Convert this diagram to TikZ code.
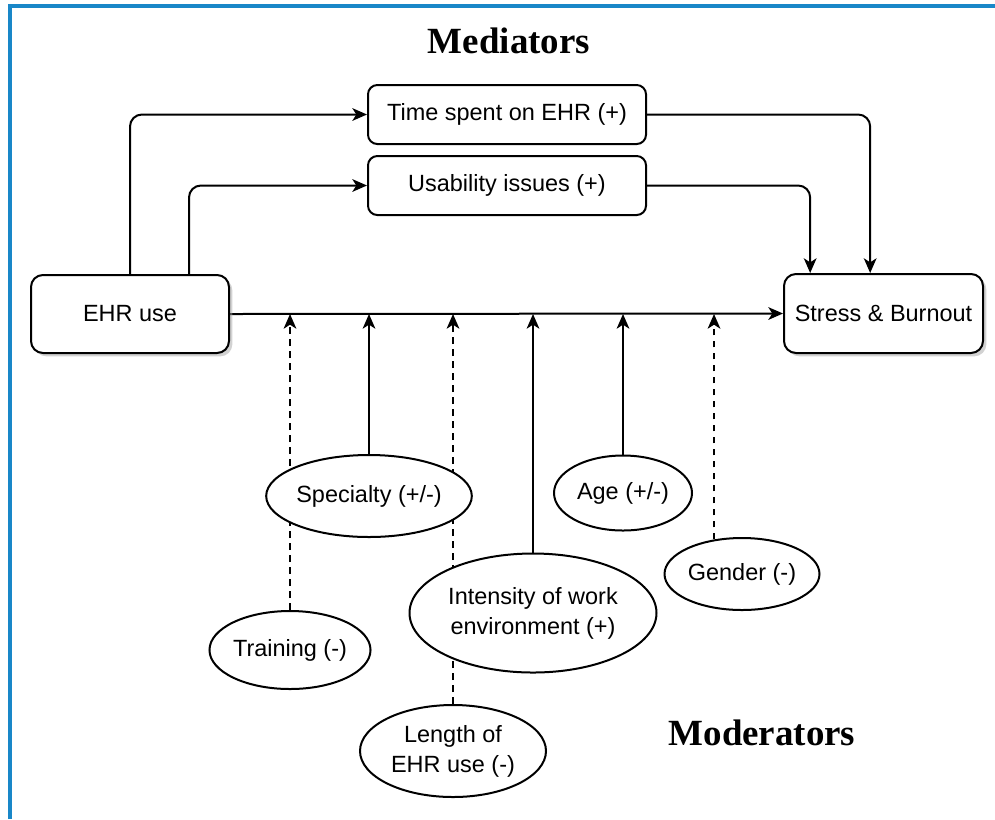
\documentclass[tikz,border=0pt]{standalone}
\usepackage{fontspec}
\setmainfont{Liberation Sans}
\newfontfamily\titlefont{Liberation Serif}
\usepackage{tikz}
\usetikzlibrary{arrows.meta,positioning,shapes.geometric,shadows,calc,backgrounds}
\definecolor{frameblue}{RGB}{25,135,200}

\begin{document}
\begin{tikzpicture}[
  x=0.75pt, y=-0.75pt,
  line width=1.5pt,
  >={Stealth[length=11pt, width=9.5pt, inset=3pt]},
  every node/.style={font=\fontsize{17.6}{22.5}\selectfont, align=center},
  medbox/.style={draw, rounded corners=7pt, minimum width=208.5pt, minimum height=44.25pt, inner sep=0pt},
  endbox/.style={draw, fill=white, rounded corners=9pt, minimum width=148.5pt, minimum height=58.5pt,
                 inner sep=0pt, drop shadow={shadow xshift=2.5pt, shadow yshift=-2.5pt, fill=black!35}},
  modell/.style={draw, fill=white, ellipse, inner sep=0pt},
  heading/.style={font=\titlefont\bfseries\fontsize{27.7}{32}\selectfont},
  link/.style={->, line width=1.5pt},
  dashedarrow/.style={->, dash pattern=on 5pt off 4pt, line width=1.6pt},
]
\useasboundingbox (0,0) rectangle (995,819);
\draw[frameblue, line width=2.4pt] (10,819) -- (10,6) -- (995,6);

\node[heading] (medtitle) at (509,41) {Mediators};
\node[heading] (modtitle) at (762,733) {Moderators};

\node[medbox] (time) at (507,114.5) {Time spent on EHR (+)};
\node[medbox] (usab) at (507,185.5) {Usability issues (+)};

\node[endbox] (ehr) at (130,314) {EHR use};
\node[endbox, minimum width=149.25pt, minimum height=59.25pt] (stress) at (883.5,313.5) {Stress \& Burnout};

\node[modell, minimum width=119.25pt, minimum height=58.5pt] (train) at (290,650) {Training (-)};
\node[modell, minimum width=124.5pt, minimum height=61.5pt] (spec) at (369,496) {Specialty (+/-)};
\node[modell, minimum width=139.5pt, minimum height=69pt] (length) at (453,751) {Length of\\EHR use (-)};
\node[modell, minimum width=185.25pt, minimum height=89.25pt] (inten) at (533,613) {Intensity of work\\environment (+)};
\node[modell, minimum width=103.5pt, minimum height=56.25pt] (age) at (623,493) {Age (+/-)};
\node[modell, minimum width=116.25pt, minimum height=54pt] (gender) at (742,574) {Gender (-)};

\begin{scope}[on background layer]
\draw[link, rounded corners=9pt] (ehr.north) |- (time.west);
\draw[link, rounded corners=9pt] ([xshift=44.25pt]ehr.north) |- (usab.west);
\draw[link, rounded corners=9pt] (time.east) -| ([xshift=-10pt]stress.north);
\draw[link, rounded corners=9pt] (usab.east) -| ([xshift=-55pt]stress.north);
\draw[link] (ehr.east) -- (stress.west);

\draw[dashedarrow] (train.north) -- (train.north |- ehr.east);
\draw[link] (spec.north) -- (spec.north |- ehr.east);
\draw[dashedarrow] (length.north) -- (length.north |- ehr.east);
\draw[link] (inten.north) -- (inten.north |- ehr.east);
\draw[link] (age.north) -- (age.north |- ehr.east);
\draw[dashedarrow] (gender.129) -- (gender.129 |- ehr.east);
\end{scope}
\end{tikzpicture}
\end{document}
